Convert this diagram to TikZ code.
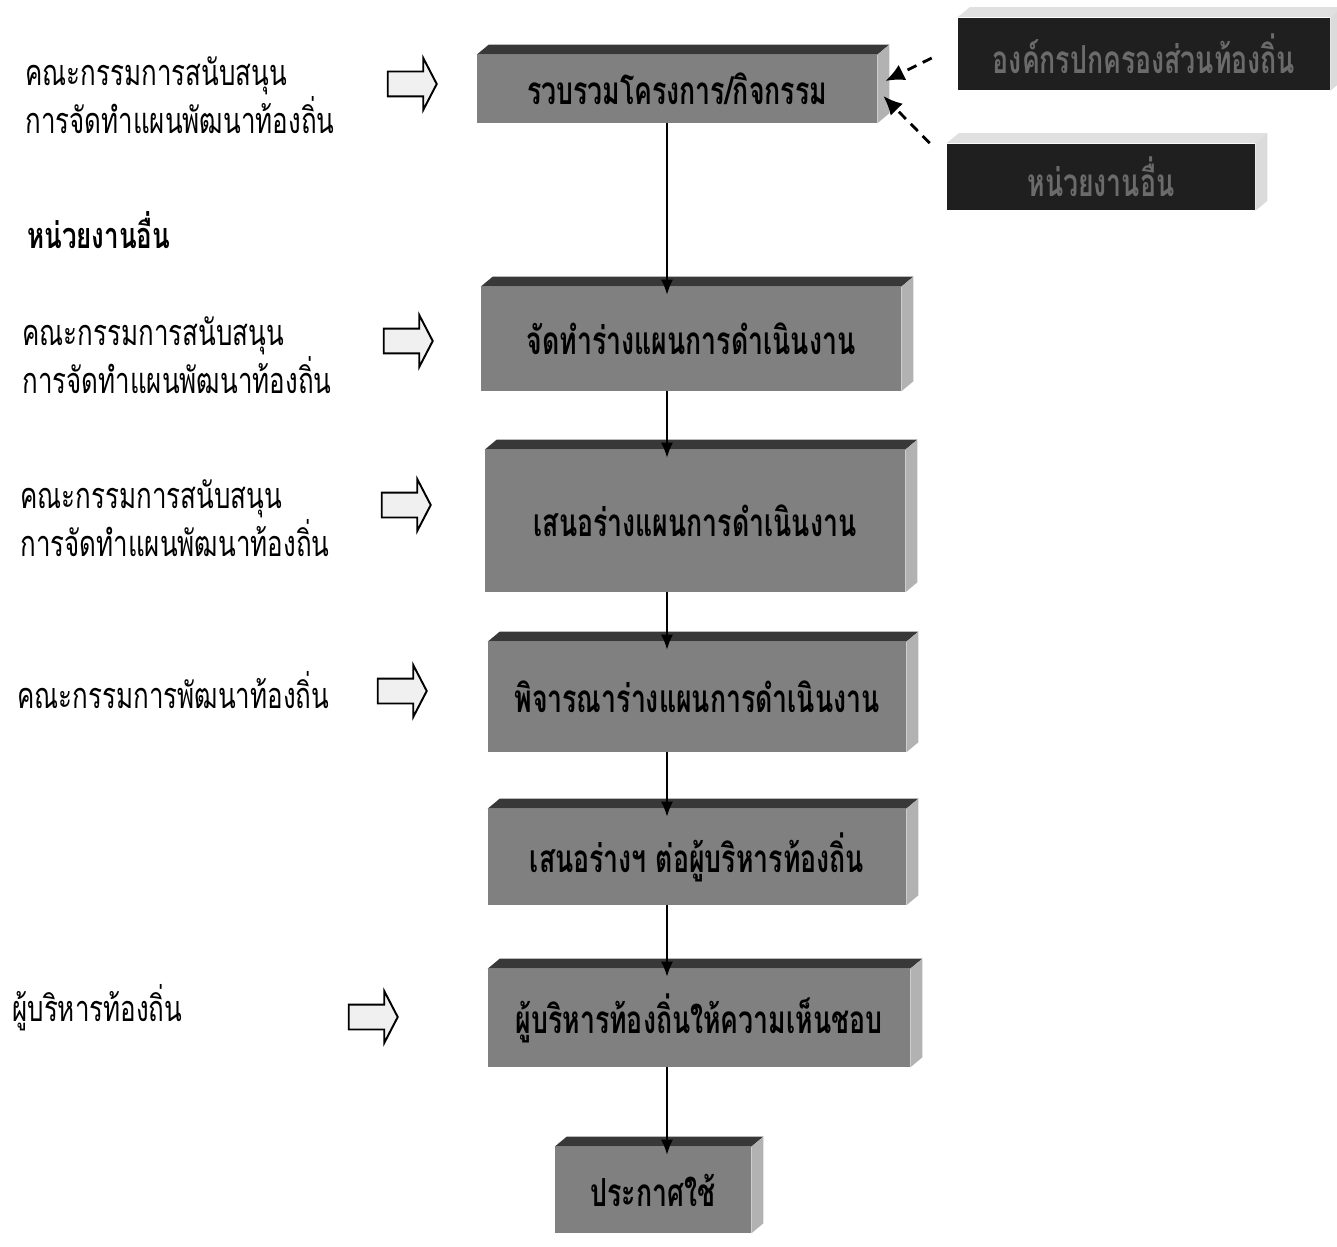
\documentclass[tikz,border=0pt]{standalone}
\usepackage{fontspec}
\newfontfamily\thaifont[Script=Thai, FakeStretch=0.72]{Loma}
\newfontfamily\thaibox[Script=Thai, FakeStretch=0.69]{Loma}
\usetikzlibrary{shapes.arrows,arrows.meta}

% 3D faces of a box: top face and right face
\newcommand\boxfaces[3]{%
  \fill[#2] (#1.north west) -- ++(12,-10) -- ([shift={(12,-10)}]#1.north east) -- (#1.north east) -- cycle;
  \fill[#3] (#1.north east) -- ++(12,-10) -- ([shift={(12,-10)}]#1.south east) -- (#1.south east) -- cycle;
}

\tikzset{
  stepbox/.style={rectangle, fill=black!50, inner sep=0pt,
    font=\thaibox\bfseries\fontsize{22}{26}\selectfont},
  srcbox/.style={rectangle, fill=black!88, text=black!58, inner sep=0pt,
    font=\thaibox\bfseries\fontsize{22}{26}\selectfont},
  sidelabel/.style={anchor=west, align=left, inner sep=0pt,
    font=\thaifont\fontsize{20.5}{23}\selectfont},
  hollow/.style={single arrow, draw, line width=1.1pt, fill=black!6,
    minimum height=0.98cm, inner xsep=0pt, inner ysep=0.23cm,
    single arrow head extend=0.27cm, single arrow tip angle=125},
  flow/.style={line width=0.9pt, -{Latex[length=3mm,width=2.4mm]}, shorten >=-1.6mm},
  feed/.style={line width=1.6pt, dash pattern=on 2mm off 1.4mm,
    -{Latex[length=3.8mm,width=3.4mm]}},
}

\begin{document}
\begin{tikzpicture}[x=0.02cm, y=-0.02cm]
    \useasboundingbox (0,0) rectangle (1337,1246);

    % main steps
    \node[stepbox, minimum width=8cm, minimum height=1.36cm] (b1) at (677,89) {รวบรวมโครงการ/กิจกรรม};
    \node[stepbox, minimum width=8.4cm, minimum height=2.08cm] (b2) at (691,339) {จัดทำร่างแผนการดำเนินงาน};
    \node[stepbox, minimum width=8.4cm, minimum height=2.84cm] (b3) at (695,521) {เสนอร่างแผนการดำเนินงาน};
    \node[stepbox, minimum width=8.36cm, minimum height=2.2cm] (b4) at (697,697) {พิจารณาร่างแผนการดำเนินงาน};
    \node[stepbox, minimum width=8.36cm, minimum height=1.92cm] (b5) at (697,857) {เสนอร่างฯ ต่อผู้บริหารท้องถิ่น};
    \node[stepbox, minimum width=8.44cm, minimum height=1.96cm] (b6) at (699,1018) {ผู้บริหารท้องถิ่นให้ความเห็นชอบ};
    \node[stepbox, minimum width=3.92cm, minimum height=1.72cm] (b7) at (653,1190) {ประกาศใช้};
    \foreach \n in {b1,b2,b3,b4,b5,b6,b7}{
        \boxfaces{\n}{black!78}{black!30}
    }

    % sources on the right
    \node[srcbox, minimum width=7.44cm, minimum height=1.46cm] (srcA) at (1144,54) {องค์กรปกครองส่วนท้องถิ่น};
    \node[srcbox, minimum width=6.16cm, minimum height=1.34cm] (srcB) at (1101,177) {หน่วยงานอื่น};
    \boxfaces{srcA}{black!12}{black!14}
    \boxfaces{srcB}{black!12}{black!14}

    % who does it (left column)
    \node[sidelabel] (l1) at (25,95) {คณะกรรมการสนับสนุน\\การจัดทำแผนพัฒนาท้องถิ่น};
    \node[sidelabel, font=\thaifont\bfseries\fontsize{20.5}{23}\selectfont] (lo) at (27,230) {หน่วยงานอื่น};
    \node[sidelabel] (l2) at (22,355) {คณะกรรมการสนับสนุน\\การจัดทำแผนพัฒนาท้องถิ่น};
    \node[sidelabel] (l3) at (20,518) {คณะกรรมการสนับสนุน\\การจัดทำแผนพัฒนาท้องถิ่น};
    \node[sidelabel] (l4) at (17,690) {คณะกรรมการพัฒนาท้องถิ่น};
    \node[sidelabel] (l5) at (12,1008) {ผู้บริหารท้องถิ่น};

    % hollow arrows
    \node[hollow] (h1) at (409,84) {};
    \node[hollow] (h2) at (405,341) {};
    \node[hollow] (h3) at (403,505) {};
    \node[hollow] (h4) at (399,691) {};
    \node[hollow] (h5) at (370,1017) {};

    % flow down the middle
    \coordinate (spine) at (667,0);
    \foreach \a/\b in {b1/b2,b2/b3,b3/b4,b4/b5,b5/b6,b6/b7}
        \draw[flow] (\a.south -| spine) -- (\b.north -| spine);

    % dashed inputs
    \draw[feed] ([shift={(-26,4)}]srcA.west) -- ([shift={(8,-8)}]b1.east);
    \draw[feed] ([shift={(-17,0)}]srcB.north west) -- ([shift={(6,7)}]b1.east);
\end{tikzpicture}
\end{document}
